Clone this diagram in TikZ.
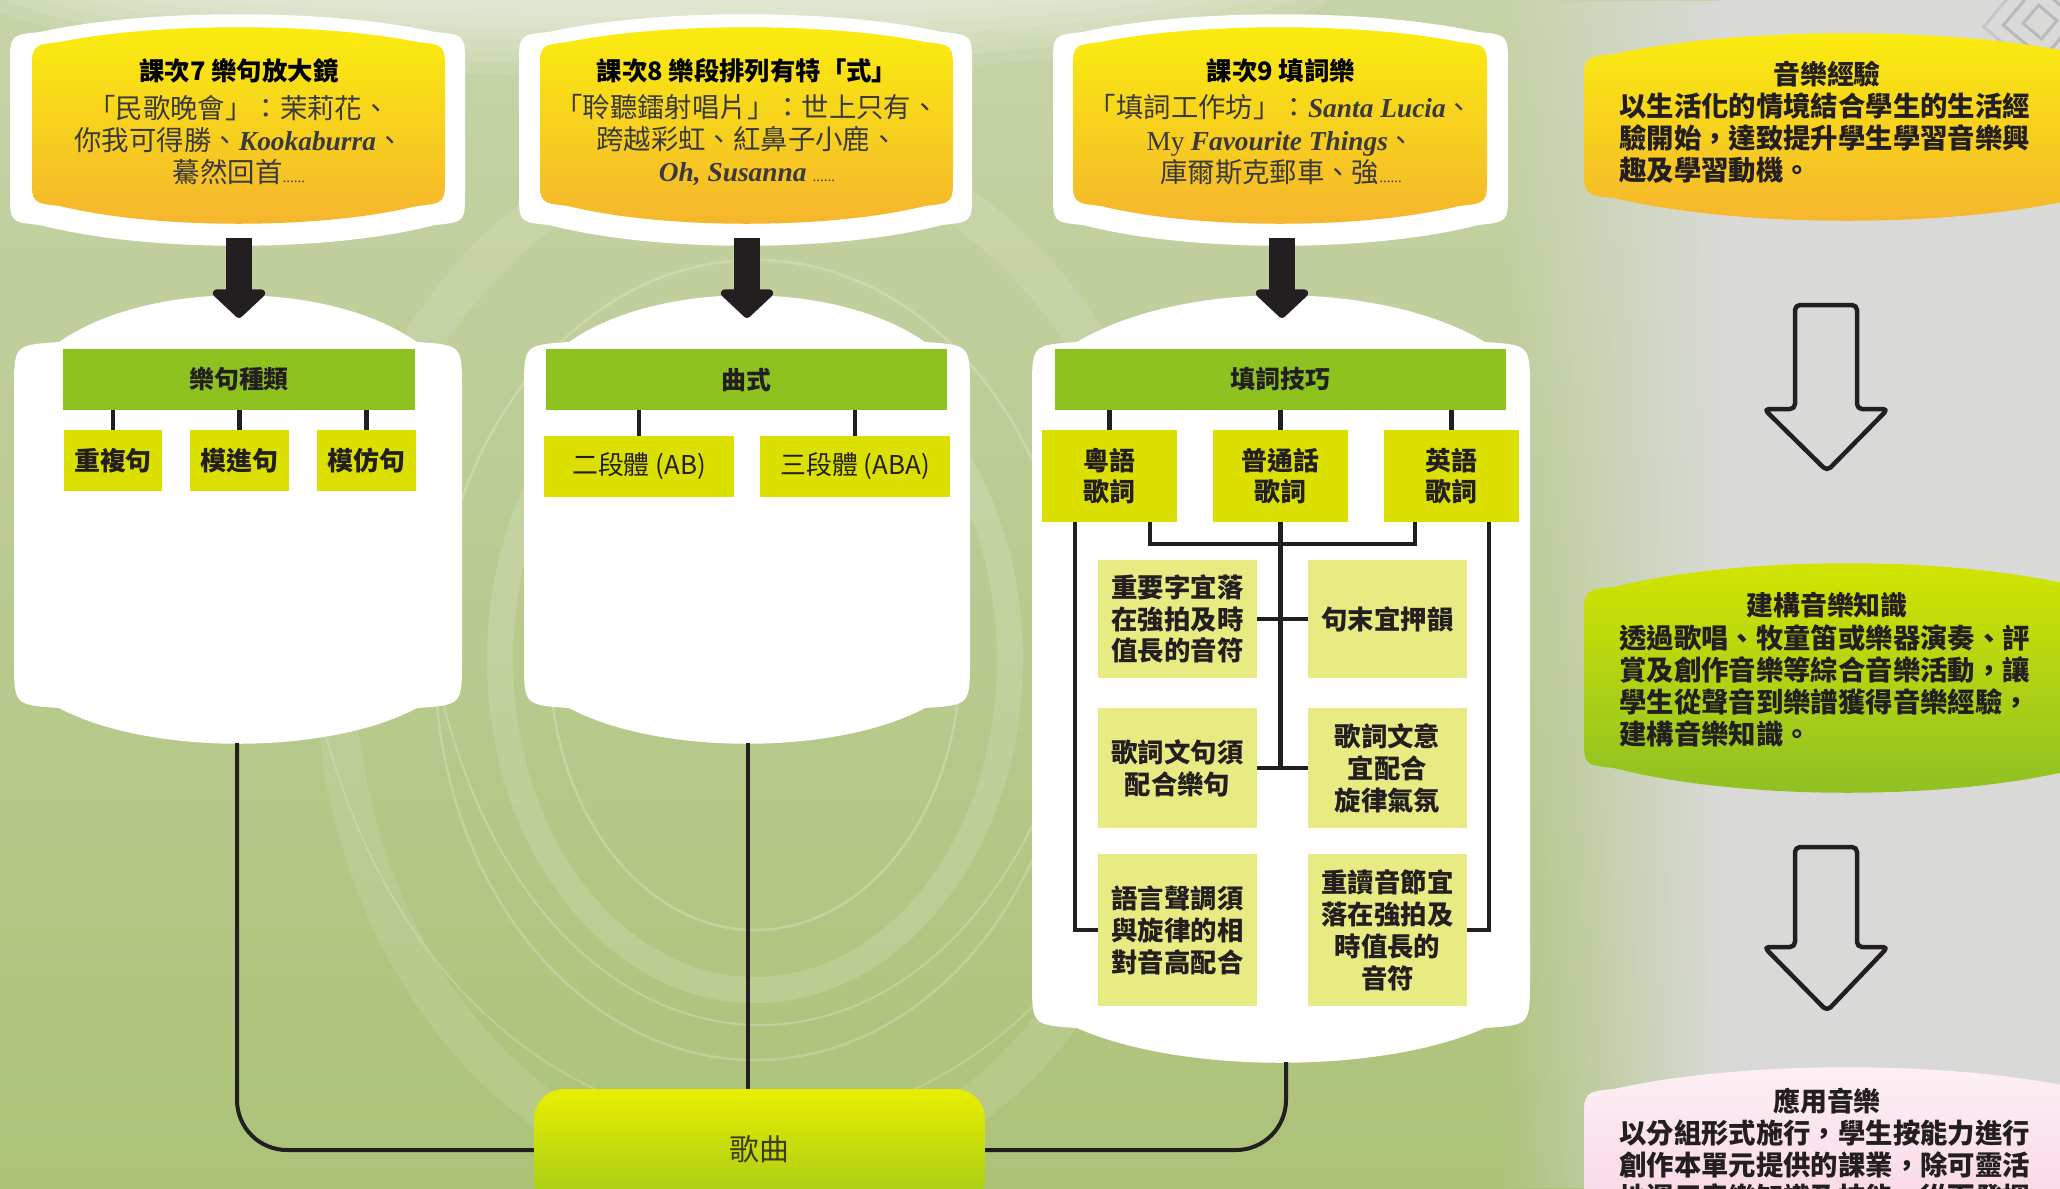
\documentclass[tikz,border=0pt]{standalone}
\usepackage{fontspec}
\setmainfont{Noto Sans CJK TC}
\newfontfamily\lserif{Liberation Serif}
\usetikzlibrary{arrows.meta,calc,fadings}
\definecolor{ink}{HTML}{231F20}
\definecolor{bgtop}{HTML}{C6D3A8}
\definecolor{bgbot}{HTML}{ADC278}
\definecolor{grayR}{HTML}{D9DAD7}
\definecolor{hdrgreen}{HTML}{8DC21F}
\definecolor{subyel}{HTML}{DCE000}
\definecolor{leafyel}{HTML}{E8EB82}
\definecolor{yelTop}{HTML}{FAEE0E}
\definecolor{yelBot}{HTML}{F5B42E}
\definecolor{grnTop}{HTML}{D4E600}
\definecolor{grnBot}{HTML}{8DBF25}
\definecolor{pinkTop}{HTML}{FDF1F6}
\definecolor{pinkBot}{HTML}{F7C9DD}
\definecolor{songTop}{HTML}{E8EE00}
\definecolor{songBot}{HTML}{A0C91A}
\definecolor{bodyink}{HTML}{3A3A3A}
\definecolor{songink}{HTML}{3D3D12}
\newcommand{\fsz}[2]{\fontsize{#1}{#2}\selectfont}
\newcommand{\ital}[1]{{\lserif\bfseries\itshape #1}}
\newcommand{\ellip}{{\lserif\fontsize{15}{15}\selectfont ......}}
\begin{document}
\begin{tikzpicture}[x=1bp,y=-1bp,
  pillow/.style n args={7}{insert path={
    (#1,#3+#7) .. controls (#1,#3) .. (#1+#7,#3-3)
    .. controls ({#1+0.3*(#2-#1)},{#3+(#4-#3)*4/3}) and ({#2-0.3*(#2-#1)},{#3+(#4-#3)*4/3}) .. (#2-#7,#3-3)
    .. controls (#2,#3) .. (#2,#3+#7)
    -- (#2,#5-#7)
    .. controls (#2,#5) .. (#2-#7,#5+3)
    .. controls ({#2-0.3*(#2-#1)},{#5+(#6-#5)*4/3}) and ({#1+0.3*(#2-#1)},{#5+(#6-#5)*4/3}) .. (#1+#7,#5+3)
    .. controls (#1,#5) .. (#1,#5-#7)
    -- cycle}},
  yelcard/.style={top color=yelTop, bottom color=yelBot},
  cardtitle/.style={inner sep=0, text=black, font=\fsz{25.5}{30}\bfseries},
  cardbody/.style={inner sep=0, text=bodyink, align=center, font=\fsz{27.5}{32.5}},
  hdr/.style={fill=hdrgreen, inner sep=0, text=ink, minimum height=61bp, font=\fsz{25}{30}\bfseries},
  subbox/.style={fill=subyel, inner sep=0, text=ink, align=center, font=\fsz{26}{31}\bfseries},
  leafbox/.style={fill=leafyel, inner sep=0, text=ink, align=center, minimum width=159bp, font=\fsz{26.5}{32}\bfseries},
  tline/.style={draw=ink, line width=4.5bp},
  conn/.style={draw=ink, line width=4bp, rounded corners=50bp},
  blkarrow/.style={draw=ink, line width=26bp, -{Triangle[width=62bp,length=30bp,round]}},
  outarrow/.style={draw=ink, line width=4.5bp, rounded corners=5bp, line join=round},
  rtitle/.style={inner sep=0, text=ink, font=\fsz{27}{32}\bfseries},
  rbody/.style={inner sep=0, text=ink, align=left, anchor=west, font=\fsz{27.5}{32}\bfseries}
]
\useasboundingbox (0,0) rectangle (2060,1188);
\clip (0,0) rectangle (2060,1188);

% ---------- background ----------
\fill[top color=bgtop, bottom color=bgbot] (0,0) rectangle (2060,1188);
\fill[grayR, path fading=west] (1500,0) rectangle (1720,1188);
\fill[grayR] (1719,0) rectangle (2060,1188);
\foreach \k in {1,...,6}
  \fill[white, opacity=0.10] (650,-25) ellipse ({520+30*\k} and {30+12*\k});
\draw[white, opacity=0.14, line width=26bp] (755,660) ellipse (255 and 330);
\draw[white, opacity=0.22, line width=2.5bp] (755,660) ellipse (205 and 270);
\draw[white, opacity=0.20, line width=2.5bp] (755,660) ellipse (320 and 400);
\draw[white, opacity=0.10, line width=40bp] (755,660) ellipse (420 and 520);
\draw[white, opacity=0.22, line width=2bp] (420,560) .. controls (470,1180) and (1050,1180) .. (1100,560);
\draw[white, opacity=0.18, line width=2bp] (300,600) .. controls (380,1300) and (1130,1300) .. (1210,600);
\begin{scope}[shift={(2040,22)}, rotate=-40]
  \draw[gray!55, line width=3bp] (-12,-12) rectangle (12,12);
  \draw[gray!55, line width=3bp] (-26,-26) rectangle (26,26);
  \draw[gray!45, line width=3bp] (-40,-40) rectangle (40,40);
\end{scope}

% ---------- top cards ----------
\path[fill=white, pillow={10}{465}{35}{15}{222}{245}{30}];
\path[yelcard, pillow={32}{445}{45}{28}{203}{223}{28}];
\path[fill=white, pillow={519}{972}{35}{15}{222}{245}{30}];
\path[yelcard, pillow={540}{953}{45}{28}{203}{223}{28}];
\path[fill=white, pillow={1053}{1508}{35}{15}{222}{245}{30}];
\path[yelcard, pillow={1073}{1487}{45}{28}{203}{223}{28}];

\node[cardtitle] (t1) at (239,71) {課次7 樂句放大鏡};
\node[cardbody] (b1) at (239,140) {「民歌晚會」：茉莉花、\\你我可得勝、\ital{Kookaburra}、\\驀然回首\ellip};
\node[cardtitle] (t2) at (747,71) {課次8 樂段排列有特「式」};
\node[cardbody] (b2) at (747,140) {「聆聽鐳射唱片」：世上只有、\\跨越彩虹、紅鼻子小鹿、\\\ital{Oh, Susanna} \ellip};
\node[cardtitle] (t3) at (1281,71) {課次9 填詞樂};
\node[cardbody] (b3) at (1281,140) {「填詞工作坊」：\ital{Santa Lucia}、\\{\lserif My} \ital{Favourite Things}、\\庫爾斯克郵車、強\ellip};

% ---------- containers ----------
\path[fill=white, pillow={14}{462}{345}{296}{705}{743}{45}];
\path[fill=white, pillow={524}{970}{345}{296}{705}{743}{45}];
\path[fill=white, pillow={1032}{1530}{345}{296}{1025}{1062}{45}];

% ---------- black arrows ----------
\coordinate (a1s) at (239,238); \coordinate (a1e) at (239,318);
\coordinate (a2s) at (747,238); \coordinate (a2e) at (747,318);
\coordinate (a3s) at (1282,238); \coordinate (a3e) at (1282,318);
\draw[blkarrow] (a1s) -- (a1e);
\draw[blkarrow] (a2s) -- (a2e);
\draw[blkarrow] (a3s) -- (a3e);

% ---------- column 1 ----------
\node[hdr, minimum width=352bp] (h1) at (239,379.5) {樂句種類};
\node[subbox, minimum width=98bp, minimum height=61bp] (p1) at (113,460.5) {重複句};
\node[subbox, minimum width=99bp, minimum height=61bp] (p2) at (239.5,460.5) {模進句};
\node[subbox, minimum width=99bp, minimum height=61bp] (p3) at (366.5,460.5) {模仿句};
\foreach \n in {p1,p2,p3} \draw[tline] (h1.south -| \n.north) -- (\n.north);

% ---------- column 2 ----------
\node[hdr, minimum width=401bp] (h2) at (746.5,379.5) {曲式};
\node[subbox, minimum width=190bp, minimum height=61bp, font=\fsz{26}{31}] (q1) at (639,466.5) {二段體 (AB)};
\node[subbox, minimum width=190bp, minimum height=61bp, font=\fsz{26}{31}] (q2) at (855,466.5) {三段體 (ABA)};
\foreach \n in {q1,q2} \draw[tline] (h2.south -| \n.north) -- (\n.north);

% ---------- column 3 ----------
\node[hdr, minimum width=451bp] (h3) at (1280.5,379.5) {填詞技巧};
\node[subbox, minimum width=135bp, minimum height=92bp] (s1) at (1109.5,476) {粵語\\歌詞};
\node[subbox, minimum width=135bp, minimum height=92bp] (s2) at (1280.5,476) {普通話\\歌詞};
\node[subbox, minimum width=135bp, minimum height=92bp] (s3) at (1451.5,476) {英語\\歌詞};
\foreach \n in {s1,s2,s3} \draw[tline] (h3.south -| \n.north) -- (\n.north);

\node[leafbox, minimum height=118bp] (l1a) at (1177.5,619) {重要字宜落\\在強拍及時\\值長的音符};
\node[leafbox, minimum height=118bp] (l1b) at (1387.5,619) {句末宜押韻};
\node[leafbox, minimum height=120bp] (l2a) at (1177.5,768) {歌詞文句須\\配合樂句};
\node[leafbox, minimum height=120bp] (l2b) at (1387.5,768) {歌詞文意\\宜配合\\旋律氣氛};
\node[leafbox, minimum height=152bp] (l3a) at (1177.5,930) {語言聲調須\\與旋律的相\\對音高配合};
\node[leafbox, minimum height=152bp] (l3b) at (1387.5,930) {重讀音節宜\\落在強拍及\\時值長的\\音符};

\draw[tline] ($(s1.south west)+(33,0)$) |- (l3a.west);
\draw[tline] ($(s1.south east)+(-27,0)$) -- ++(0,22) -| ($(s3.south west)+(31,0)$);
\draw[tline] (s2.south) -- (s2.south |- l2a.east);
\draw[tline] (l1a.east) -- (l1b.west);
\draw[tline] (l2a.east) -- (l2b.west);
\draw[tline] ($(s3.south east)+(-30,0)$) |- (l3b.east);

% ---------- song ----------
\coordinate (k1) at (237,743);
\coordinate (k2) at (748,743);
\coordinate (k3) at (1286,1062);
\node[inner sep=0, minimum width=451bp, minimum height=122bp, rounded corners=30bp,
      top color=songTop, bottom color=songBot, text=songink, font=\fsz{30}{30}]
      (song) at (759.5,1150) {\raisebox{5bp}{歌曲}};
\draw[conn] (k1) |- (song.west);
\draw[draw=ink, line width=3.5bp] (k2) -- (k2 |- song.north);
\draw[conn] (k3) |- (song.east);

% ---------- right column ----------
\path[yelcard, pillow={1584}{2110}{57}{34}{195}{220}{30}];
\node[rtitle] (r1t) at (1827,74) {音樂經驗};
\node[rbody] (r1b) at (1619,138) {以生活化的情境結合學生的生活經\\驗開始，達致提升學生學習音樂興\\趣及學習動機。};

\draw[outarrow] (1795,305) -- (1795,409) -- (1764,409) -- (1827,471) -- (1888,409) -- (1857,409) -- (1857,305) -- cycle;

\path[top color=grnTop, bottom color=grnBot, pillow={1584}{2110}{590}{564}{765}{792}{30}];
\node[rtitle] (r2t) at (1827,605) {建構音樂知識};
\node[rbody] (r2b) at (1619,686) {透過歌唱、牧童笛或樂器演奏、評\\賞及創作音樂等綜合音樂活動，讓\\學生從聲音到樂譜獲得音樂經驗，\\建構音樂知識。};

\draw[outarrow] (1795,847) -- (1795,947) -- (1764,947) -- (1827,1011) -- (1888,947) -- (1857,947) -- (1857,847) -- cycle;

\path[top color=pinkTop, bottom color=pinkBot, pillow={1584}{2110}{1092}{1068}{1250}{1280}{30}];
\node[rtitle] (r3t) at (1827,1101) {應用音樂};
\node[rbody] (r3b) at (1619,1165) {以分組形式施行，學生按能力進行\\創作本單元提供的課業，除可靈活\\地運用音樂知識及技能，從而發揮};
\end{tikzpicture}
\end{document}
